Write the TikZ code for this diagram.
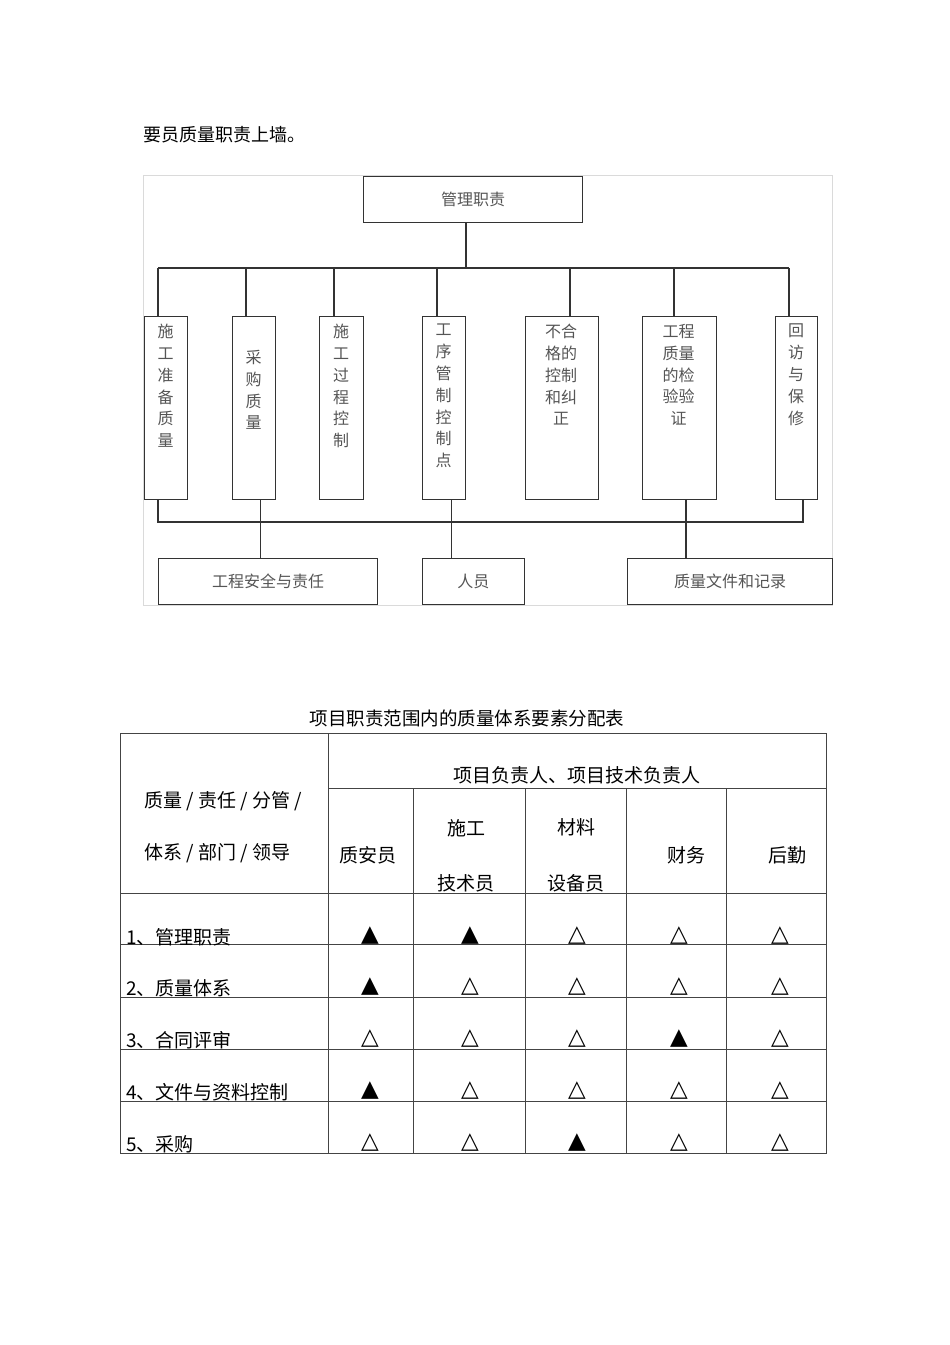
\documentclass[tikz,border=0pt]{standalone}
\usepackage{fontspec}
\setmainfont{Noto Sans CJK SC}
\newfontfamily\symf{DejaVu Sans}
\definecolor{linec}{HTML}{333333}
\definecolor{chtext}{HTML}{555555}
\definecolor{framec}{HTML}{DADADA}
\definecolor{tabc}{HTML}{444444}
\begin{document}
\begin{tikzpicture}[x=1pt,y=-1pt,
  ln/.style={draw=linec,line width=1.2pt},
  cbox/.style={draw=linec,line width=1.2pt,inner sep=0pt,anchor=north west,minimum height=183pt},
  hbox/.style={draw=linec,line width=1.2pt,inner sep=0pt,anchor=north west,minimum height=46pt,
    font=\fontsize{16}{16}\selectfont,text=chtext},
  vtext/.style={anchor=north,inner sep=0pt,align=center,font=\fontsize{16}{21.8}\selectfont,text=chtext},
  tline/.style={draw=tabc,line width=0.9pt},
  ttext/.style={inner sep=0pt,font=\fontsize{19}{19}\selectfont},
  tri/.style={inner sep=0pt,font=\symf\fontsize{23}{23}\selectfont}
]
\fill[white] (0,0) rectangle (950,1345);
\useasboundingbox (0,0) rectangle (950,1345);

% heading line
\node[anchor=west,inner sep=0pt,font=\fontsize{18}{18}\selectfont] (head) at (143,135) {要员质量职责上墙。};

% light frame
\draw[draw=framec,line width=1pt] (143,175) rectangle (832,605);

% top box
\node[hbox,minimum width=219pt,minimum height=46pt] (top) at (363,176) {管理职责};

% column boxes
\node[cbox,minimum width=43pt] (c1) at (144,316) {};
\node[cbox,minimum width=43pt] (c2) at (232,316) {};
\node[cbox,minimum width=44pt] (c3) at (319,316) {};
\node[cbox,minimum width=43pt] (c4) at (422,316) {};
\node[cbox,minimum width=73pt] (c5) at (524.5,316) {};
\node[cbox,minimum width=74pt] (c6) at (641.5,316) {};
\node[cbox,minimum width=42pt] (c7) at (775,316) {};

\node[vtext] (t1) at (165.5,324) {施\\工\\准\\备\\质\\量};
\node[vtext] (t2) at (253.5,350) {采\\购\\质\\量};
\node[vtext] (t3) at (341,324) {施\\工\\过\\程\\控\\制};
\node[vtext] (t4) at (443.5,324) {工\\序\\管\\制\\控\\制\\点};
\node[vtext] (t5) at (561,324) {不合\\格的\\控制\\和纠\\正};
\node[vtext] (t6) at (678.5,324) {工程\\质量\\的检\\验验\\证};
\node[vtext] (t7) at (796,324) {回\\访\\与\\保\\修};

% bottom boxes
\node[hbox,minimum width=219pt] (b1) at (158,558) {工程安全与责任};
\node[hbox,minimum width=101.5pt] (b2) at (422,558) {人员};
\node[hbox,minimum width=205pt] (b3) at (627,558) {质量文件和记录};

% upper bus
\coordinate (j0) at (466,268);
\coordinate (j1) at (158,268);
\coordinate (j2) at (246,268);
\coordinate (j3) at (334,268);
\coordinate (j4) at (437,268);
\coordinate (j5) at (570,268);
\coordinate (j6) at (674,268);
\coordinate (j7) at (789,268);
\draw[ln] (top.south -| j0) -- (j0);
\draw[ln] (j1) -- (j7);
\draw[ln] (j1) -- (j1 |- c1.north);
\draw[ln] (j2) -- (j2 |- c2.north);
\draw[ln] (j3) -- (j3 |- c3.north);
\draw[ln] (j4) -- (j4 |- c4.north);
\draw[ln] (j5) -- (j5 |- c5.north);
\draw[ln] (j6) -- (j6 |- c6.north);
\draw[ln] (j7) -- (j7 |- c7.north);

% lower bus
\coordinate (k1) at (158,522);
\coordinate (k2) at (260.7,522);
\coordinate (k3) at (451.6,522);
\coordinate (k4) at (686,522);
\coordinate (k7) at (803,522);
\draw[ln] (k1 |- c1.south) -- (k1) -- (k7) -- (k7 |- c7.south);
\draw[ln] (k2 |- c2.south) -- (k2 |- b1.north);
\draw[ln] (k3 |- c4.south) -- (k3 |- b2.north);
\draw[ln] (k4 |- c6.south) -- (k4 |- b3.north);

% ---------------- table ----------------
\node[inner sep=0pt,font=\fontsize{18.5}{18.5}\selectfont] (ttl) at (467,718) {项目职责范围内的质量体系要素分配表};

\draw[tline] (120,733) rectangle (826,1153);
\draw[tline] (328,733) -- (328,1153);
\draw[tline] (328,788) -- (826,788);
\foreach \xx in {413,525,626,726} \draw[tline] (\xx,788) -- (\xx,1153);
\foreach \yy in {893,944,997,1049,1101} \draw[tline] (120,\yy) -- (826,\yy);

\node[ttext] (hd) at (577,775) {项目负责人、项目技术负责人};
\node[ttext,anchor=west] (lh1) at (144,801) {质量 / 责任 / 分管 /};
\node[ttext,anchor=west] (lh2) at (144,853) {体系 / 部门 / 领导};
\node[ttext] (s1) at (368,855) {质安员};
\node[ttext] (s2a) at (466,828) {施工};
\node[ttext] (s2b) at (466,883) {技术员};
\node[ttext] (s3a) at (576,827) {材料};
\node[ttext] (s3b) at (576,883) {设备员};
\node[ttext] (s4) at (686,855) {财务};
\node[ttext] (s5) at (787,855) {后勤};

\node[ttext,anchor=west] (r1) at (126,937) {1、管理职责};
\node[ttext,anchor=west] (r2) at (126,988) {2、质量体系};
\node[ttext,anchor=west] (r3) at (126,1040) {3、合同评审};
\node[ttext,anchor=west] (r4) at (126,1092) {4、文件与资料控制};
\node[ttext,anchor=west] (r5) at (126,1144) {5、采购};

% triangles
\foreach \row/\yy/\a/\b/\c/\d/\e in {
  1/936/▲/▲/△/△/△,
  2/987/▲/△/△/△/△,
  3/1039/△/△/△/▲/△,
  4/1091/▲/△/△/△/△,
  5/1143/△/△/▲/△/△}{
  \node[tri] (m\row a) at (370,\yy) {\a};
  \node[tri] (m\row b) at (470,\yy) {\b};
  \node[tri] (m\row c) at (577,\yy) {\c};
  \node[tri] (m\row d) at (679,\yy) {\d};
  \node[tri] (m\row e) at (780,\yy) {\e};
}
\end{tikzpicture}
\end{document}
